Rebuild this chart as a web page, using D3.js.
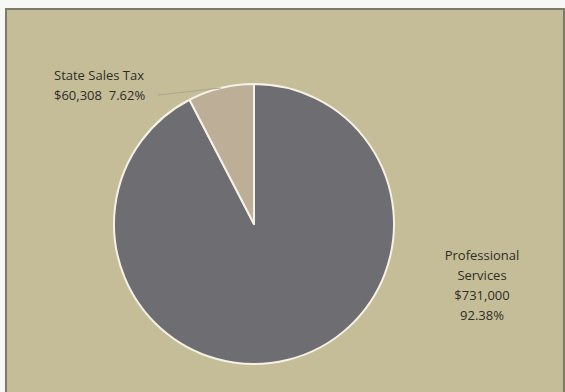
<!DOCTYPE html>
<html>
<head>
<meta charset="utf-8">
<script src="https://cdn.jsdelivr.net/npm/d3@7"></script>
<style>
  html, body { margin: 0; padding: 0; background: #f7f7f5; }
  svg { display: block; }
  text { font-family: "Open Sans", "Liberation Sans", sans-serif; fill: #2f2e26; white-space: pre; }
</style>
</head>
<body>
<svg id="chart" width="565" height="392"></svg>
<script>
// Budget split
const categories = ["Professional Services", "State Sales Tax"];
const amounts = [731000, 60308];
const percentLabels = ["92.38%", "7.62%"];
const amountLabels = ["$731,000", "$60,308"];
const colors = ["#6e6d72", "#bdae97"];

const svg = d3.select("#chart");
const W = 565, H = 392;

// chart area panel
svg.append("rect")
  .attr("x", 6).attr("y", 9)
  .attr("width", W - 7).attr("height", H)
  .attr("fill", "#c5bd98")
  .attr("stroke", "#7d7a6c")
  .attr("stroke-width", 2);

const cx = 254, cy = 224, r = 140;

const pie = d3.pie().sort(null).value(d => d)(amounts);
const arc = d3.arc().innerRadius(0).outerRadius(r);

const g = svg.append("g").attr("transform", `translate(${cx},${cy})`);

g.selectAll("path.slice")
  .data(pie)
  .join("path")
  .attr("class", "slice")
  .attr("d", arc)
  .attr("fill", (d, i) => colors[i])
  .attr("stroke", "#f4f1e6")
  .attr("stroke-width", 2)
  .attr("stroke-linejoin", "round");

// Professional Services label, to the right of the pie
const ps = svg.append("text")
  .attr("text-anchor", "middle")
  .attr("font-size", 13);
[ "Professional", "Services", amountLabels[0], percentLabels[0] ].forEach((t, i) => {
  ps.append("tspan").attr("x", 482).attr("y", 260 + i * 20).text(t);
});

// State Sales Tax label, with a leader line to its slice
const st = svg.append("text").attr("font-size", 13);
st.append("tspan").attr("x", 54).attr("y", 80).text(categories[1]);
st.append("tspan").attr("x", 54).attr("y", 100).text(amountLabels[1] + "  " + percentLabels[1]);

const mid = (pie[1].startAngle + pie[1].endAngle) / 2;
const tip = [cx + Math.sin(mid) * r, cy - Math.cos(mid) * r];
svg.append("line")
  .attr("x1", 158).attr("y1", 95)
  .attr("x2", tip[0]).attr("y2", tip[1])
  .attr("stroke", "#a9a695")
  .attr("stroke-width", 1);
</script>
</body>
</html>
